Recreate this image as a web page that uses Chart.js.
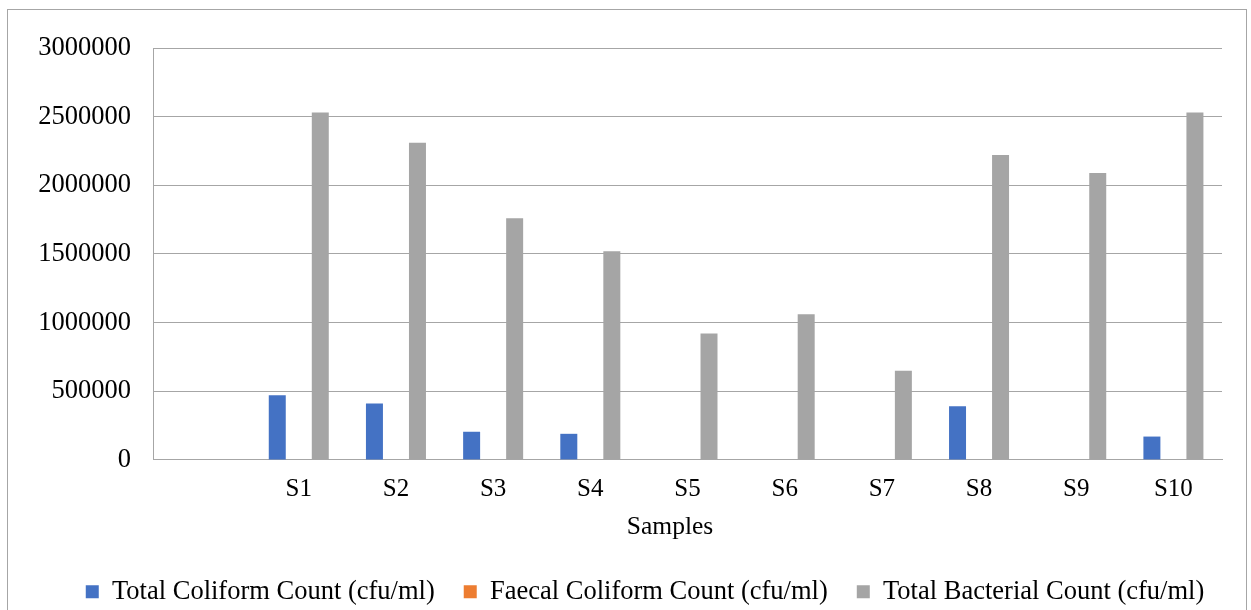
<!DOCTYPE html>
<html>
<head>
<meta charset="utf-8">
<script src="https://cdn.jsdelivr.net/npm/chart.js@4"></script>
<style>
  html, body { margin: 0; padding: 0; background: #fff; }
  #wrap { position: relative; width: 1251px; height: 610px; overflow: hidden; }
  #frame { position: absolute; left: 7px; top: 9px; width: 1240px; height: 700px; border: 1px solid #a6a6a6; box-sizing: border-box; }
  canvas { position: absolute; left: 0; top: 0; }
</style>
</head>
<body>
<div id="wrap">
  <div id="frame"></div>
  <canvas id="c" width="1251" height="615"></canvas>
</div>
<script>
// Sample categories (the first slot is left empty on the axis)
const samples = ['', 'S1', 'S2', 'S3', 'S4', 'S5', 'S6', 'S7', 'S8', 'S9', 'S10'];

// Counts per sample, cfu/ml
const totalColiform = [null, 470000, 410000, 205000, 190000, 0, 0, 0, 390000, 0, 170000];
const faecalColiform = [null, 0, 0, 0, 0, 0, 0, 0, 0, 0, 0];
const totalBacterial = [null, 2530000, 2310000, 1760000, 1520000, 920000, 1060000, 650000, 2220000, 2090000, 2530000];

// Value axis ticks
const yTicks = [0, 500000, 1000000, 1500000, 2000000, 2500000, 3000000];

const serif = 'Liberation Serif, Times New Roman, serif';
const gridColor = '#a6a6a6';

// Centre the legend under the whole frame, and nudge the x-axis title left
const layoutTweaks = {
  id: 'layoutTweaks',
  afterLayout(chart) {
    const lg = chart.legend;
    if (lg) { lg.left += 34; lg.right += 34; }
    const xs = chart.scales.x;
    if (xs && !xs._titleShifted) {
      const drawTitle = xs.drawTitle;
      xs.drawTitle = function () {
        const l = this.left, r = this.right;
        this.left -= 17.5; this.right -= 17.5;
        drawTitle.call(this);
        this.left = l; this.right = r;
      };
      xs._titleShifted = true;
    }
  }
};

new Chart(document.getElementById('c'), {
  type: 'bar',
  data: {
    labels: samples,
    datasets: [
      { label: 'Total Coliform Count (cfu/ml)', data: totalColiform, backgroundColor: '#4472C4' },
      { label: 'Faecal Coliform Count (cfu/ml)', data: faecalColiform, backgroundColor: '#ED7D31' },
      { label: 'Total Bacterial Count (cfu/ml)', data: totalBacterial, backgroundColor: '#A5A5A5' }
    ]
  },
  plugins: [layoutTweaks],
  options: {
    responsive: false,
    animation: false,
    devicePixelRatio: 1,
    datasets: { bar: { categoryPercentage: 0.664, barPercentage: 0.79 } },
    layout: { padding: { left: 0, right: 29, top: 48, bottom: 0 } },
    plugins: {
      tooltip: { enabled: false },
      legend: {
        position: 'bottom',
        labels: {
          boxWidth: 13,
          boxHeight: 13,
          padding: 29,
          color: '#000',
          font: { family: serif, size: 26.5 }
        }
      }
    },
    scales: {
      x: {
        grid: { display: false },
        border: { display: true, color: gridColor, width: 1 },
        ticks: { color: '#000', font: { family: serif, size: 25 }, padding: 7, maxRotation: 0 },
        title: { display: true, text: 'Samples', color: '#000', font: { family: serif, size: 25.5 }, padding: { top: 0, bottom: 7 } }
      },
      y: {
        min: 0,
        max: 3000000,
        afterBuildTicks: (scale) => { scale.ticks = yTicks.map(v => ({ value: v })); },
        afterFit: (scale) => { scale.width = 153; },
        grid: { color: gridColor, lineWidth: 1, drawTicks: false },
        border: { display: true, color: gridColor, width: 1 },
        ticks: { color: '#000', font: { family: serif, size: 26.5 }, padding: 22, callback: (v) => String(v) }
      }
    }
  }
});
</script>
</body>
</html>
